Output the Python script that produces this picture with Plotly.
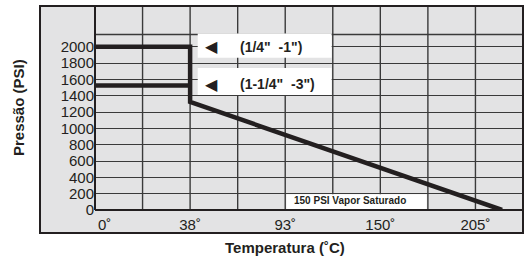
import plotly.graph_objects as go

# Data (x in °F as in the original chart grid, labelled in °C)
tick_f = [0, 100, 200, 300, 400]
tick_c_labels = ["0˚", "38˚", "93˚", "150˚", "205˚"]
p_ticks = list(range(0, 2001, 200))

line_small_t = [0, 100, 100, 428]        # 1/4" - 1"
line_small_p = [2000, 2000, 1325, 0]
line_large_t = [0, 100]                  # 1-1/4" - 3"
line_large_p = [1525, 1525]

grid_x = [50, 100, 150, 200, 250, 300, 350, 400]
extra_grid_y = [2150]

INK = "#231f20"
GRID = "#3a3a3a"
FONT = "Liberation Sans, Arial, Helvetica, sans-serif"

fig = go.Figure()
fig.add_trace(go.Scatter(x=line_small_t, y=line_small_p, mode="lines",
                         line=dict(color=INK, width=4.5), showlegend=False, hoverinfo="skip"))
fig.add_trace(go.Scatter(x=line_large_t, y=line_large_p, mode="lines",
                         line=dict(color=INK, width=4.5), showlegend=False, hoverinfo="skip"))

shapes = []
L, R, T, B = 95, 523, 6, 210
W, H = R - L, B - T
def px_x(px): return (px - L) / W
def px_y(py): return (B - py) / H

shapes.append(dict(type="rect", xref="paper", yref="paper", layer="below",
                   x0=px_x(40), x1=1.0, y0=px_y(233), y1=1.0,
                   fillcolor="#e3e3e4", line=dict(width=0)))
for gx in grid_x:
    shapes.append(dict(type="line", xref="x", yref="paper", layer="below",
                       x0=gx, x1=gx, y0=0, y1=1, line=dict(color=GRID, width=1.4)))
for gy in extra_grid_y:
    shapes.append(dict(type="line", xref="paper", yref="y", layer="below",
                       x0=0, x1=1, y0=gy, y1=gy, line=dict(color=GRID, width=1.4)))
for (x0, x1, y0, y1) in [(108, 248.8, 1865, 2162), (108, 248.8, 1410, 1740), (201.2, 348.8, 8, 192)]:
    shapes.append(dict(type="rect", xref="x", yref="y", layer="between",
                       x0=x0, x1=x1, y0=y0, y1=y1, fillcolor="white", line=dict(width=0)))
shapes.append(dict(type="rect", xref="paper", yref="paper", layer="above",
                   x0=px_x(40), x1=1.0, y0=px_y(233), y1=1.0,
                   fillcolor="rgba(0,0,0,0)", line=dict(color=INK, width=2)))
shapes.append(dict(type="line", xref="paper", yref="paper", layer="above",
                   x0=0, x1=0, y0=0, y1=1, line=dict(color=INK, width=2)))
shapes.append(dict(type="line", xref="paper", yref="paper", layer="above",
                   x0=0, x1=1, y0=0, y1=0, line=dict(color=INK, width=2)))

ann = []
# first x tick label, nudged right of the origin so it clears the y labels
ann.append(dict(x=tick_f[0], y=0, xref="x", yref="paper", text=tick_c_labels[0], showarrow=False,
                font=dict(family=FONT, size=15, color=INK), xanchor="left", yanchor="top",
                xshift=1, yshift=-4))
ann.append(dict(x=123, y=2000, xref="x", yref="y", text="◀", showarrow=False,
                font=dict(family="DejaVu Sans", size=16, color=INK), xanchor="center", yanchor="middle"))
ann.append(dict(x=123, y=1540, xref="x", yref="y", text="◀", showarrow=False,
                font=dict(family="DejaVu Sans", size=16, color=INK), xanchor="center", yanchor="middle"))
ann.append(dict(x=150, y=2000, xref="x", yref="y", text="<b>(1/4\"  -1\")</b>", showarrow=False,
                font=dict(family=FONT, size=14, color=INK), xanchor="left", yanchor="middle"))
ann.append(dict(x=150, y=1540, xref="x", yref="y", text="<b>(1-1/4\"  -3\")</b>", showarrow=False,
                font=dict(family=FONT, size=14, color=INK), xanchor="left", yanchor="middle"))
ann.append(dict(x=268, y=122, xref="x", yref="y", text="<b>150 PSI Vapor Saturado</b>", showarrow=False,
                font=dict(family=FONT, size=10, color=INK), xanchor="center", yanchor="middle"))
ann.append(dict(x=px_x(18), y=px_y(108), xref="paper", yref="paper", text="<b>Pressão (PSI)</b>",
                showarrow=False, textangle=-90, font=dict(family=FONT, size=15, color=INK),
                xanchor="center", yanchor="middle"))
ann.append(dict(x=px_x(285), y=px_y(247), xref="paper", yref="paper", text="<b>Temperatura (˚C)</b>",
                showarrow=False, font=dict(family=FONT, size=15, color=INK),
                xanchor="center", yanchor="middle"))

fig.update_layout(
    width=525, height=259,
    margin=dict(l=L, r=525 - R, t=T, b=259 - B),
    paper_bgcolor="white", plot_bgcolor="white",
    font=dict(family=FONT, color=INK),
    xaxis=dict(range=[0, 450], showgrid=False, zeroline=False, showline=False,
               tickmode="array", tickvals=tick_f[1:], ticktext=tick_c_labels[1:],
               ticks="", ticklabelstandoff=4, tickfont=dict(size=15, color=INK), fixedrange=True),
    yaxis=dict(range=[0, 2500], showgrid=True, gridcolor=GRID, gridwidth=1.4, zeroline=False,
               showline=False, tickmode="array", tickvals=p_ticks, ticks="",
               tickfont=dict(size=15, color=INK), fixedrange=True),
    shapes=shapes, annotations=ann, showlegend=False,
)
fig.write_html("out.html", config={"displayModeBar": False},
               post_script="document.body.style.margin='0px';document.body.style.overflow='hidden';")
